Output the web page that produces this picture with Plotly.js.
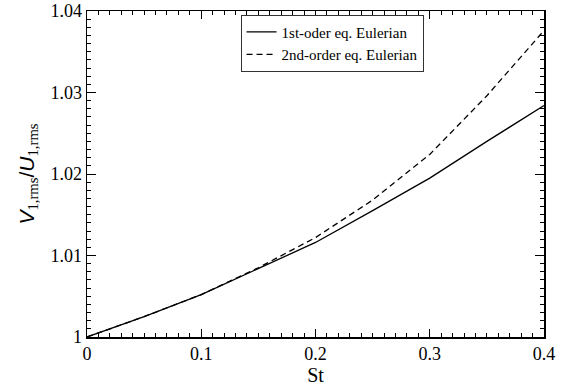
<!DOCTYPE html>
<html>
<head>
<meta charset="utf-8">
<script src="https://cdn.plot.ly/plotly-3.0.1.min.js"></script>
<style>html,body{margin:0;padding:0;background:#fff;}#chart{width:569px;height:388px;}</style>
</head>
<body>
<div id="chart"></div>
<script>
const st = [0, 0.05, 0.1, 0.15, 0.2, 0.25, 0.3, 0.35, 0.4];
const firstOrder = [1.0, 1.0025, 1.0052, 1.0084, 1.0116, 1.0155, 1.0195, 1.0240, 1.0284];
const secondOrder = [1.0, 1.0025, 1.0052, 1.0085, 1.0122, 1.0168, 1.0224, 1.0296, 1.0376];
const seriesNames = ['1st-oder eq. Eulerian', '2nd-order eq. Eulerian'];
const xTickVals = [0, 0.1, 0.2, 0.3, 0.4];
const xTickText = ['0', '0.1', '0.2', '0.3', '0.4'];
const yTickVals = [1, 1.01, 1.02, 1.03, 1.04];
const yTickText = ['1', '1.01', '1.02', '1.03', '1.04'];

const serif = 'Liberation Serif, Times New Roman, serif';
const traces = [
  {x: st, y: firstOrder, name: seriesNames[0], mode: 'lines', line: {color: '#000', width: 1.3}},
  {x: st, y: secondOrder, name: seriesNames[1], mode: 'lines', line: {color: '#000', width: 1.3, dash: '6px,4px'}}
];
const layout = {
  width: 569, height: 388,
  margin: {l: 87, r: 25, t: 11, b: 51},
  paper_bgcolor: '#fff', plot_bgcolor: '#fff',
  showlegend: true,
  legend: {x: 0.336, y: 0.989, xanchor: 'left', yanchor: 'top', bordercolor: '#333', borderwidth: 1,
           bgcolor: '#fff', font: {family: serif, size: 15, color: '#000'}, tracegroupgap: 0, itemwidth: 30},
  xaxis: {
    range: [0, 0.4], tickvals: xTickVals, ticktext: xTickText,
    ticks: 'inside', ticklen: 8, tickwidth: 1, tickcolor: '#000',
    showline: true, linecolor: '#000', linewidth: 1.5, mirror: 'allticks',
    showgrid: false, zeroline: false,
    tickfont: {family: serif, size: 18, color: '#000'},
    minor: {dtick: 0.01, tick0: 0, ticks: 'inside', ticklen: 4, tickcolor: '#000', tickwidth: 1, showgrid: false},
    title: {text: 'St', font: {family: serif, size: 20, color: '#000'}, standoff: 2}
  },
  yaxis: {
    range: [1, 1.04], tickvals: yTickVals, ticktext: yTickText,
    ticks: 'inside', ticklen: 9, tickwidth: 1, tickcolor: '#000',
    showline: true, linecolor: '#000', linewidth: 1.5, mirror: 'allticks',
    showgrid: false, zeroline: false,
    tickfont: {family: serif, size: 18, color: '#000'},
    minor: {dtick: 0.001, tick0: 1, ticks: 'inside', ticklen: 4, tickcolor: '#000', tickwidth: 1, showgrid: false},
    title: {text: '<i>V</i><sub><span style="font-family:Liberation Serif">1,rms</span></sub>/<i>U</i><sub><span style="font-family:Liberation Serif">1,rms</span></sub>',
            font: {family: 'Liberation Sans, Arial, sans-serif', size: 21, color: '#000'}, standoff: 10}
  }
};
Plotly.newPlot('chart', traces, layout, {displayModeBar: false, staticPlot: true});
</script>
</body>
</html>
